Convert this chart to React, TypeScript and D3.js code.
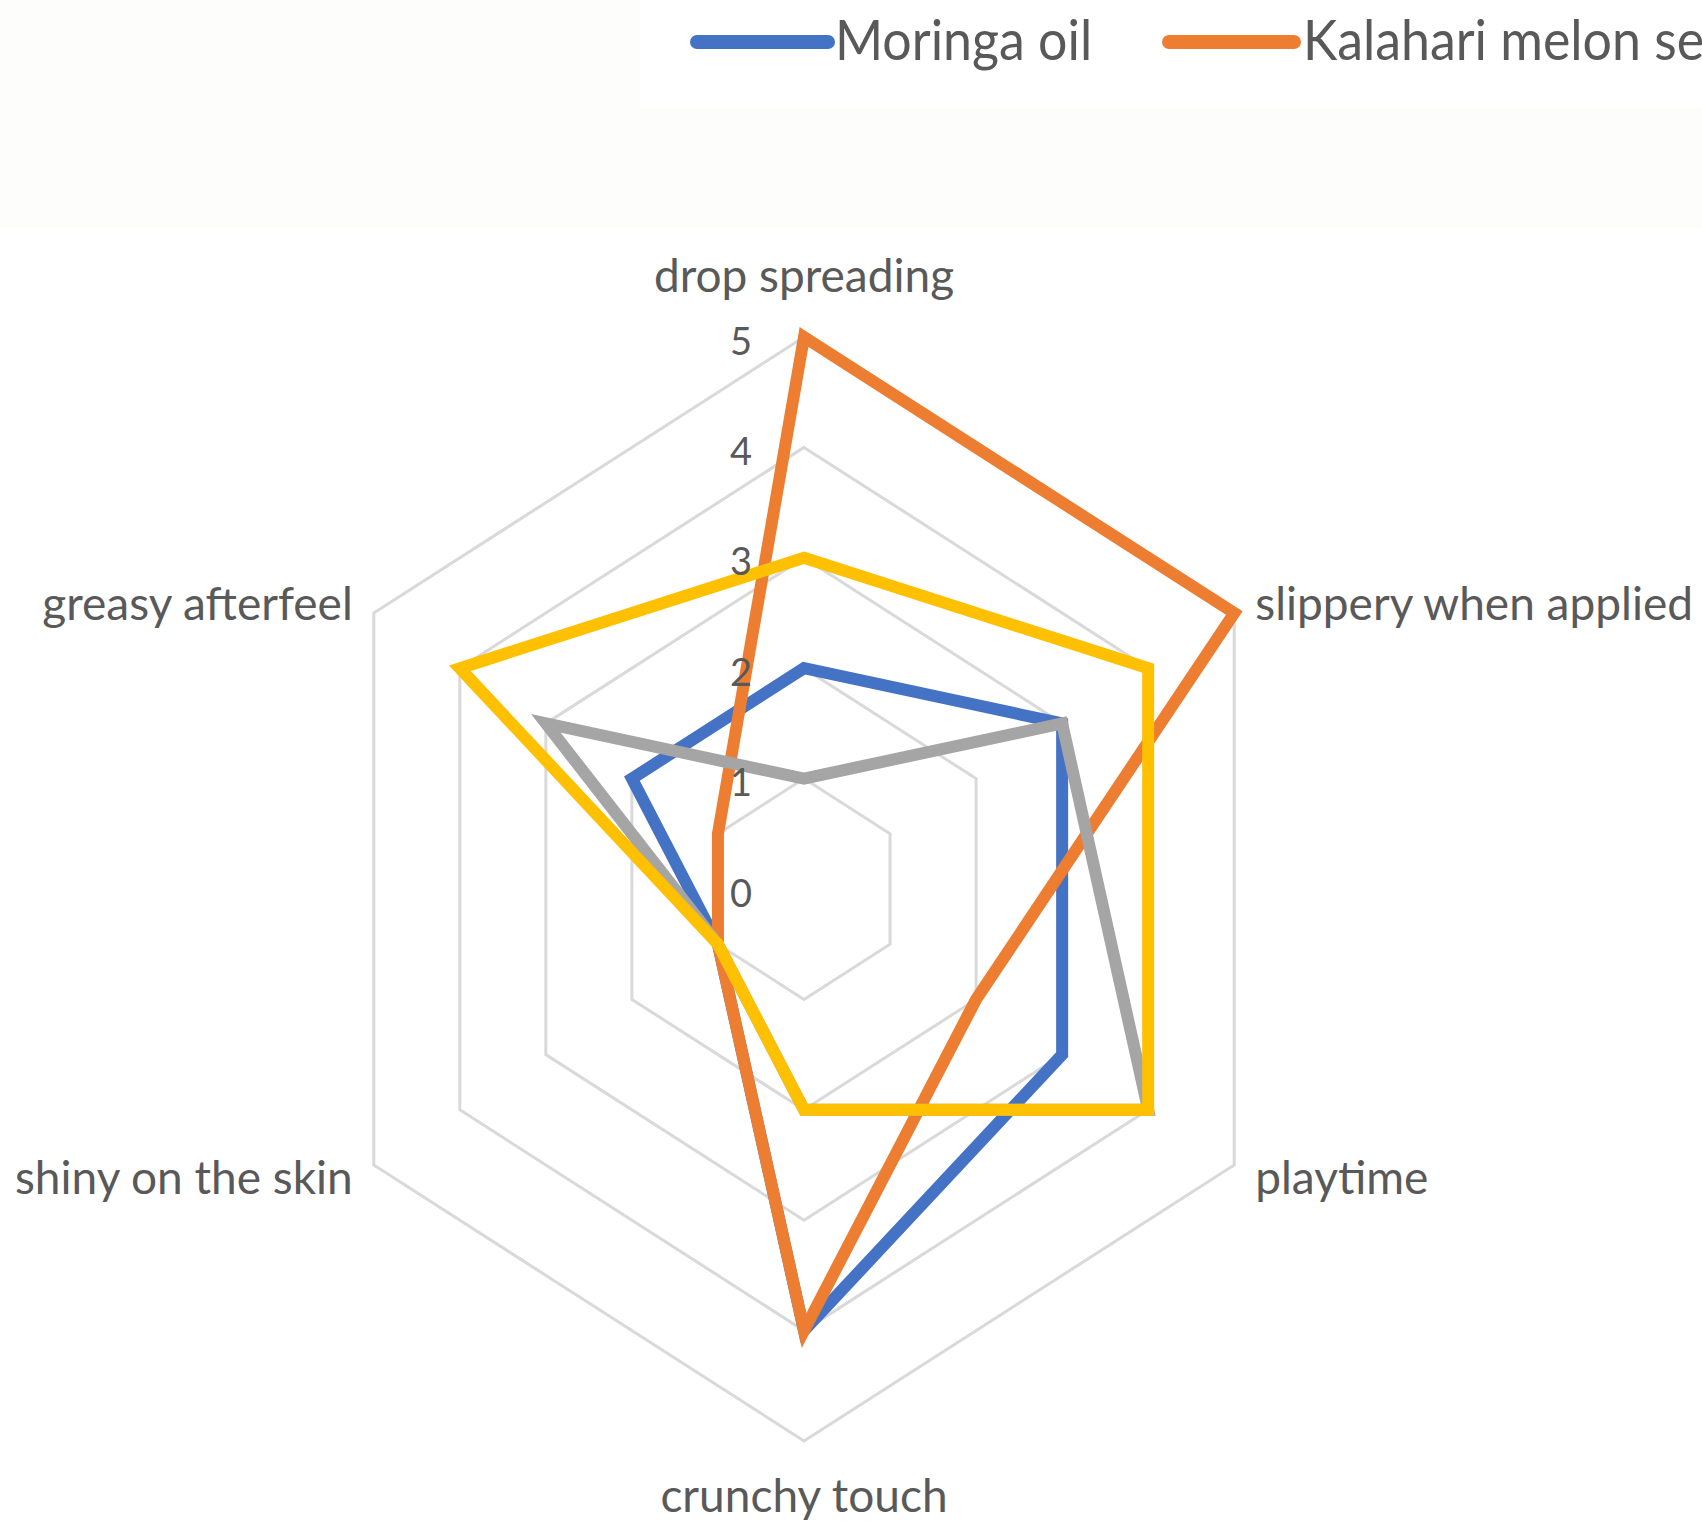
import { useEffect, useRef } from 'react';
import * as d3 from 'd3';

// axis categories, clockwise from the top
const categories = [
  'drop spreading',
  'slippery when applied',
  'playtime',
  'crunchy touch',
  'shiny on the skin',
  'greasy afterfeel',
];

// scores
const moringaOil = [2, 3, 3, 4, 1, 2];
const kalahariMelonSeed = [5, 5, 2, 4, 1, 1];
const greySeries = [1, 3, 4, 2, 1, 3];
const yellowSeries = [3, 4, 4, 2, 1, 4];

const tickValues = [0, 1, 2, 3, 4, 5];
const legendNames = ['Moringa oil', 'Kalahari melon seed oil'];
const seriesColors = ['#4472C4', '#ED7D31', '#A5A5A5', '#FFC000'];

const W = 1702;
const H = 1525;

const App = () => {
  const svgRef = useRef<SVGSVGElement>(null);

  useEffect(() => {
    if (!svgRef.current) return;
    const svg = d3.select(svgRef.current);
    svg.selectAll('*').remove();

    const font = 'Lato, "Open Sans", sans-serif';
    const textColor = '#595959';

    // faint background band behind the legend
    svg.append('rect').attr('x', 0).attr('y', 0).attr('width', W).attr('height', H).attr('fill', '#ffffff');
    svg.append('rect').attr('x', 0).attr('y', 0).attr('width', 640).attr('height', 108).attr('fill', '#fdfdfb');
    svg.append('rect').attr('x', 0).attr('y', 108).attr('width', W).attr('height', 120).attr('fill', '#fdfdfb');

    const cx = 804;
    const cy = 889;
    const squeeze = 0.9; // the picture is narrower than it is tall

    const r = d3.scaleLinear().domain([0, 5]).range([0, 552]);
    const angle = (i: number) => (i * 2 * Math.PI) / categories.length;

    const plot = svg.append('g')
      .attr('transform', `translate(${cx},${cy}) scale(${squeeze},1)`);

    // grid rings
    const ring = d3.lineRadial<number>()
      .angle((_, i) => angle(i))
      .radius(d => r(d))
      .curve(d3.curveLinearClosed);

    tickValues.filter(v => v > 0).forEach(v => {
      plot.append('path')
        .attr('d', ring(categories.map(() => v)))
        .attr('fill', 'none')
        .attr('stroke', '#d9d9d9')
        .attr('stroke-width', 3)
        .attr('vector-effect', 'non-scaling-stroke');
    });

    // series
    const allSeries = [moringaOil, kalahariMelonSeed, greySeries, yellowSeries];
    const seriesLine = d3.lineRadial<number>()
      .angle((_, i) => angle(i))
      .radius(d => r(d))
      .curve(d3.curveLinearClosed);

    allSeries.forEach((values, k) => {
      plot.append('path')
        .attr('d', seriesLine(values))
        .attr('fill', 'none')
        .attr('stroke', seriesColors[k])
        .attr('stroke-width', 12)
        .attr('stroke-linejoin', 'miter')
        .attr('stroke-miterlimit', 4)
        .attr('vector-effect', 'non-scaling-stroke');
    });

    // radial tick labels along the top spoke
    svg.append('g')
      .selectAll('text')
      .data(tickValues)
      .join('text')
      .attr('x', cx - 52)
      .attr('y', d => cy - r(d) + 8)
      .attr('text-anchor', 'end')
      .attr('dominant-baseline', 'middle')
      .style('font-family', font)
      .style('font-size', '38px')
      .style('fill', textColor)
      .text(d => d);

    // category labels
    const R = r(5);
    categories.forEach((name, i) => {
      const a = angle(i);
      const s = Math.sin(a);
      const c = Math.cos(a);
      const vx = cx + R * s * squeeze;
      const vy = cy - R * c;
      let x = vx;
      let y = vy;
      let anchor = 'middle';
      if (Math.abs(s) < 0.01) {
        y = c > 0 ? vy - 45 : vy + 71;
      } else {
        x = vx + (s > 0 ? 21 : -21);
        anchor = s > 0 ? 'start' : 'end';
        y = c > 0 ? vy + 7 : vy + 29;
      }
      svg.append('text')
        .attr('x', x)
        .attr('y', y)
        .attr('text-anchor', anchor)
        .style('font-family', font)
        .style('font-size', '46px')
        .style('fill', textColor)
        .text(name);
    });

    // legend (runs off the right edge, as in the original)
    const legendItems = [
      { x0: 697, x1: 828, tx: 835 },
      { x0: 1169, x1: 1294, tx: 1303 },
    ];
    legendItems.forEach((item, k) => {
      svg.append('line')
        .attr('x1', item.x0)
        .attr('x2', item.x1)
        .attr('y1', 42)
        .attr('y2', 42)
        .attr('stroke', seriesColors[k])
        .attr('stroke-width', 14)
        .attr('stroke-linecap', 'round');
      svg.append('text')
        .attr('transform', `translate(${item.tx},60) scale(0.91,1)`)
        .style('font-family', font)
        .style('font-size', '57px')
        .style('fill', textColor)
        .text(legendNames[k]);
    });
  }, []);

  return (
    <div style={{ position: 'absolute', left: 0, top: 0, width: W, height: H, overflow: 'hidden' }}>
      <svg ref={svgRef} width={W} height={H} style={{ display: 'block' }} />
    </div>
  );
};

export default App;
